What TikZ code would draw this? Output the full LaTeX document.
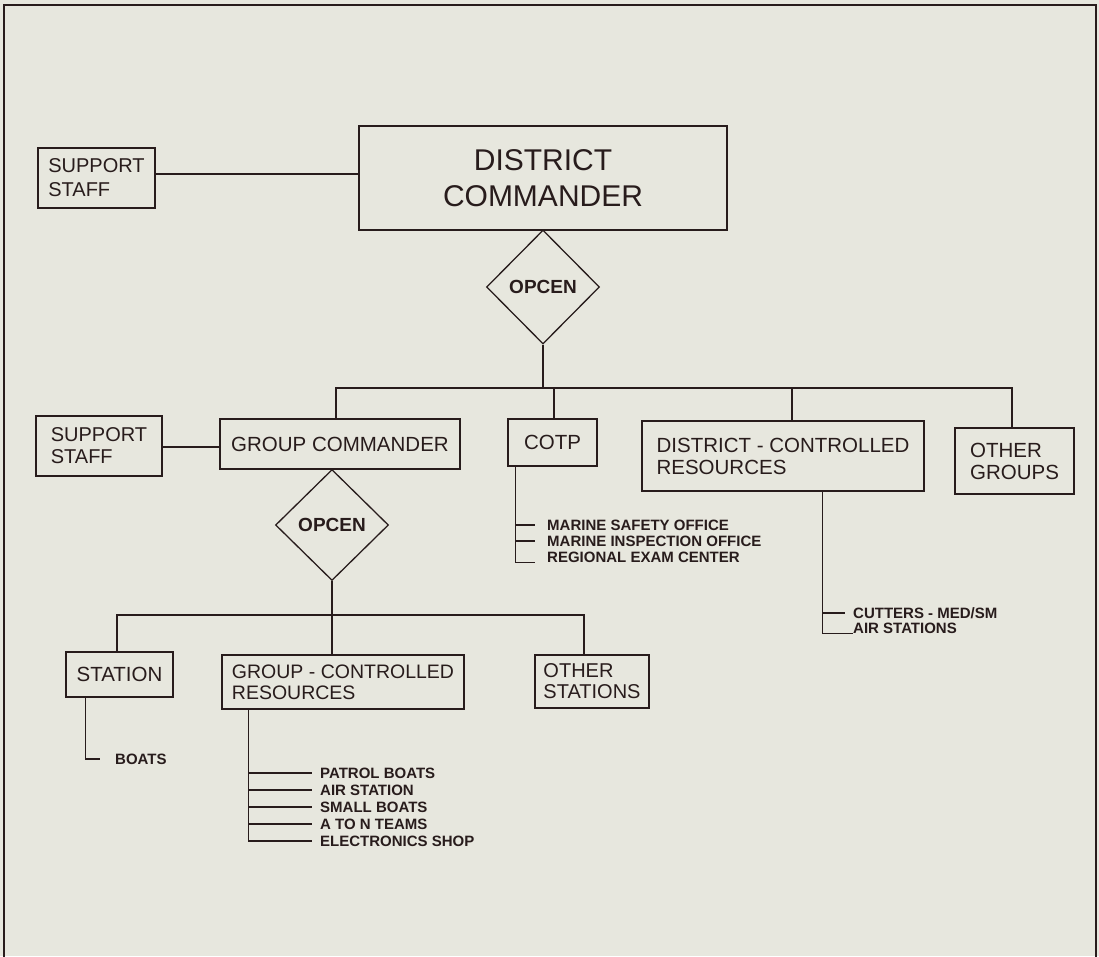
\documentclass[tikz,border=0pt]{standalone}
\usepackage{fontspec}
\setmainfont{Liberation Sans}
\usetikzlibrary{shapes.geometric}
\definecolor{ink}{RGB}{40,28,28}
\definecolor{paper}{RGB}{231,231,222}
\begin{document}
\begin{tikzpicture}[x=1pt,y=-1pt,
  ln/.style={draw=ink, line width=1.3pt},
  box/.style={draw=ink, line width=1.3pt, inner sep=0pt, align=left, text=ink,
    font=\fontsize{20.5}{22}\selectfont},
  dia/.style={draw=ink, line width=1.3pt, diamond, inner sep=0pt, text=ink,
    font=\bfseries\fontsize{19}{20}\selectfont},
  leaf/.style={anchor=west, inner sep=0pt, text=ink, font=\bfseries\fontsize{15}{16}\selectfont},
]
\fill[paper] (0,0) rectangle (1099,956);
\useasboundingbox (0,0) rectangle (1099,956);
\draw[ink, line width=2pt] (4,958) -- (4,5) -- (1096,5) -- (1096,958);

% top level
\node[box, minimum width=117pt, minimum height=60pt, font=\fontsize{20}{24}\selectfont] (ss1) at (96.5,178) {SUPPORT\\STAFF};
\node[box, minimum width=368pt, minimum height=104pt, align=center, font=\fontsize{30}{36}\selectfont] (dc) at (543,178) {DISTRICT\\COMMANDER};
\node[dia, minimum width=113pt, minimum height=114pt] (d1) at (543,287) {OPCEN};

% second level
\node[box, minimum width=126pt, minimum height=60pt, font=\fontsize{20}{22}\selectfont] (ss2) at (99,446) {SUPPORT\\STAFF};
\node[box, minimum width=240pt, minimum height=50pt] (gc) at (340,444) {GROUP COMMANDER};
\node[box, minimum width=89pt, minimum height=47pt] (cotp) at (552.5,442.5) {COTP};
\node[box, minimum width=282pt, minimum height=70pt] (dcr) at (783,456) {DISTRICT - CONTROLLED\\RESOURCES};
\node[box, minimum width=119pt, minimum height=66pt] (og) at (1014.5,461) {OTHER\\GROUPS};
\node[dia, minimum width=113pt, minimum height=111pt] (d2) at (332,525) {OPCEN};

% third level
\node[box, minimum width=107pt, minimum height=45pt] (st) at (119.5,674.5) {STATION};
\node[box, minimum width=242pt, minimum height=54pt, font=\fontsize{19.5}{21}\selectfont] (gcr) at (343,682) {GROUP - CONTROLLED\\RESOURCES};
\node[box, minimum width=114pt, minimum height=53pt, font=\fontsize{20}{21}\selectfont] (os) at (592,681.5) {OTHER\\STATIONS};

% leaf labels
\node[leaf] (m1) at (547,525) {MARINE SAFETY OFFICE};
\node[leaf] (m2) at (547,541) {MARINE INSPECTION OFFICE};
\node[leaf] (m3) at (547,557) {REGIONAL EXAM CENTER};
\node[leaf] (c1) at (853,613) {CUTTERS - MED/SM};
\node[leaf] (c2) at (853,628) {AIR STATIONS};
\node[leaf] (bt) at (115,759) {BOATS};
\node[leaf] (g1) at (320,773) {PATROL BOATS};
\node[leaf] (g2) at (320,790) {AIR STATION};
\node[leaf] (g3) at (320,807) {SMALL BOATS};
\node[leaf] (g4) at (320,824) {A TO N TEAMS};
\node[leaf] (g5) at (320,841) {ELECTRONICS SHOP};

% connectors, top
\coordinate (s1a) at ([yshift=4pt]ss1.east);
\draw[ln] (s1a) -- (s1a -| dc.west);
\coordinate (b1) at (543,388);
\draw[ln] (d1.south) -- (b1);
\draw[ln] ([xshift=-4pt]gc.north) |- (b1);
\draw[ln] ([xshift=1.5pt]cotp.north) |- (b1);
\draw[ln] ([xshift=9pt]dcr.north) |- (b1);
\draw[ln] ([xshift=-2.5pt]og.north) |- (b1);

% connectors, group
\coordinate (s2a) at ([yshift=-1pt]ss2.east);
\draw[ln] (s2a) -- (s2a -| gc.west);
\coordinate (b2) at (332,615);
\draw[ln] (d2.south) -- (b2);
\draw[ln] ([xshift=-2.5pt]st.north) |- (b2);
\draw[ln] ([xshift=-11pt]gcr.north) |- (b2);
\draw[ln] ([xshift=-8pt]os.north) |- (b2);

% COTP leaves
\coordinate (ct) at ([xshift=8pt]cotp.south west);
\draw[ln] (ct) |- ([xshift=-12pt]m3.south west);
\draw[ln] (ct |- m1.west) -- ([xshift=-12pt]m1.west);
\draw[ln] (ct |- m2.west) -- ([xshift=-12pt]m2.west);

% DCR leaves
\coordinate (cd) at ([xshift=181pt]dcr.south west);
\draw[ln] (cd) |- (c2.south west);
\draw[ln] (cd |- c1.west) -- ([xshift=-8pt]c1.west);

% station leaf
\coordinate (cs) at ([xshift=20pt]st.south west);
\draw[ln] (cs) |- ([xshift=-15pt]bt.west);

% GCR leaves
\coordinate (cg) at ([xshift=27pt]gcr.south west);
\draw[ln] (cg) |- ([xshift=-8pt]g5.west);
\draw[ln] (cg |- g1.west) -- ([xshift=-8pt]g1.west);
\draw[ln] (cg |- g2.west) -- ([xshift=-8pt]g2.west);
\draw[ln] (cg |- g3.west) -- ([xshift=-8pt]g3.west);
\draw[ln] (cg |- g4.west) -- ([xshift=-8pt]g4.west);
\end{tikzpicture}
\end{document}
